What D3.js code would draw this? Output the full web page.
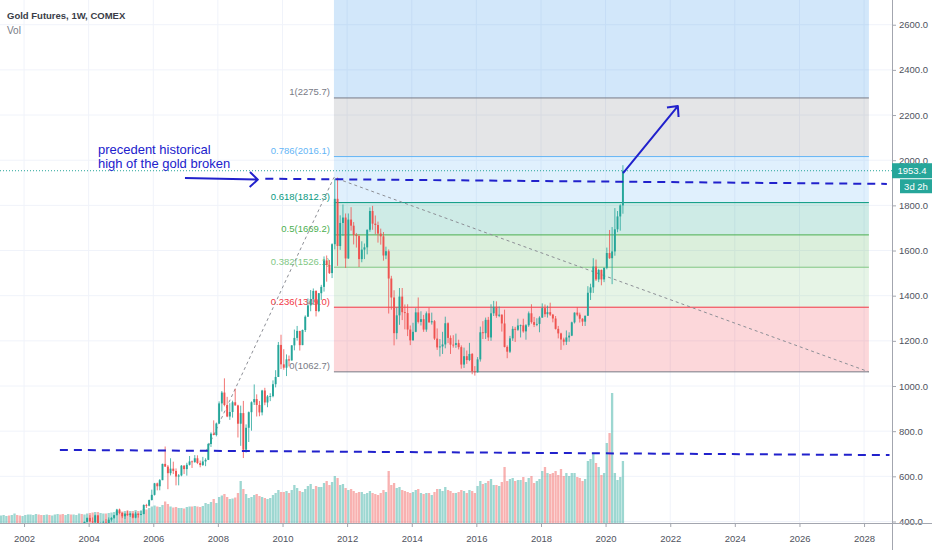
<!DOCTYPE html>
<html lang="en">
<head>
  <meta charset="UTF-8">
  <title>Gold Futures, 1W, COMEX</title>
  <script src="https://d3js.org/d3.v7.min.js"></script>
  <style>
    body { margin: 0; background: #fff; font-family: "Liberation Sans", Arial, sans-serif; }
    svg { display: block; }
    .axis text { font-size: 9.5px; fill: #50535e; font-family: "Liberation Sans", Arial, sans-serif; }
    .axis line { stroke: #a3a6af; }
  </style>
</head>
<body>
  <svg width="932" height="550"></svg>

  <script>
    // monthly bars, Apr 2001 .. Jul 2020 (open = previous close)
    const firstMonth = "2001-04-01";
    const lastMonth = "2020-08-01";

    const closes = [
      264,267,270,265,273,293,279,275,279,
      282,296,302,308,326,318,304,312,324,317,319,347,
      368,348,334,338,364,346,354,375,388,386,398,416,
      400,397,427,388,393,395,391,408,416,428,453,438,
      423,434,428,435,417,435,429,433,473,470,495,518,
      569,556,583,655,643,614,634,624,599,604,647,632,
      651,666,663,680,659,650,666,673,743,789,783,834,
      923,971,916,865,885,928,914,833,880,718,815,884,
      928,942,916,883,980,927,954,955,1008,1040,1182,1096,
      1081,1118,1113,1180,1213,1244,1181,1248,1307,1357,1385,1421,
      1332,1411,1439,1556,1536,1500,1628,1829,1620,1722,1746,1565,
      1737,1710,1669,1664,1562,1604,1614,1692,1775,1719,1713,1675,
      1663,1578,1597,1476,1392,1234,1313,1396,1327,1323,1250,1202,
      1240,1326,1284,1296,1250,1322,1282,1287,1210,1171,1175,1184,
      1278,1213,1183,1182,1190,1172,1095,1132,1115,1142,1065,1061,
      1118,1238,1234,1293,1215,1322,1351,1311,1316,1277,1173,1152,
      1211,1253,1249,1268,1269,1242,1269,1322,1283,1271,1275,1303,
      1345,1318,1327,1316,1299,1253,1233,1206,1196,1215,1223,1282,
      1325,1316,1298,1285,1311,1413,1437,1529,1472,1514,1472,1523,
      1589,1566,1596,1694,1751,1800,1953.4
    ];
    const highs = [
      267,277,275,270,280,294,293,281,281,
      288,299,304,311,328,329,322,314,328,326,325,349,
      383,389,352,342,373,372,367,376,392,392,400,417,
      428,418,430,428,395,403,411,418,419,429,456,457,
      440,438,448,438,436,443,435,448,476,478,497,541,
      571,572,588,656,732,650,680,665,635,610,650,650,
      660,690,670,694,693,670,686,680,748,795,848,838,
      932,978,1034,952,924,935,988,917,913,934,830,887,
      932,1007,963,934,983,992,960,968,1025,1070,1195,1227,
      1163,1140,1135,1181,1250,1266,1244,1250,1313,1388,1425,1432,
      1424,1412,1448,1574,1578,1558,1632,1917,1923,1756,1804,1764,
      1764,1792,1726,1677,1670,1641,1631,1693,1791,1798,1755,1728,
      1697,1682,1617,1605,1488,1424,1348,1434,1434,1361,1362,1268,
      1280,1345,1392,1331,1315,1330,1346,1325,1292,1255,1208,1240,
      1307,1282,1224,1225,1232,1205,1180,1170,1157,1191,1146,1088,
      1128,1263,1287,1303,1306,1362,1377,1375,1352,1317,1338,1180,
      1222,1265,1262,1298,1272,1298,1274,1330,1362,1306,1300,1309,
      1366,1361,1356,1369,1319,1310,1266,1236,1214,1246,1238,1285,
      1326,1349,1325,1300,1312,1442,1453,1566,1560,1519,1516,1525,
      1613,1691,1704,1788,1775,1805,1978
    ];
    const lows = [
      254,263,267,264,265,271,277,272,273,
      278,282,289,300,307,313,300,302,311,310,315,316,
      343,346,320,319,337,341,343,352,371,370,378,398,
      399,393,392,386,371,383,387,389,400,412,427,432,
      415,411,425,420,414,414,417,428,432,460,467,493,
      515,538,538,583,642,543,604,610,560,560,600,610,
      603,648,637,660,654,640,646,645,672,730,782,777,
      834,887,910,862,850,860,913,772,735,681,705,752,
      802,916,865,866,870,915,906,933,950,994,1040,1075,
      1072,1044,1087,1113,1158,1201,1157,1181,1239,1306,1331,1359,
      1308,1327,1381,1418,1462,1496,1478,1605,1532,1603,1665,1523,
      1563,1688,1627,1613,1527,1548,1562,1583,1683,1692,1672,1635,
      1626,1555,1562,1321,1338,1180,1207,1271,1292,1251,1221,1181,
      1202,1238,1277,1268,1240,1240,1280,1272,1204,1160,1131,1142,
      1167,1190,1142,1170,1169,1162,1077,1080,1098,1110,1052,1046,
      1060,1108,1208,1208,1200,1200,1310,1302,1305,1241,1171,1123,
      1146,1200,1195,1244,1215,1236,1205,1262,1276,1261,1265,1238,
      1302,1306,1303,1310,1282,1250,1211,1160,1180,1182,1196,1221,
      1277,1309,1281,1266,1266,1311,1381,1412,1465,1460,1446,1460,
      1517,1563,1451,1577,1681,1688,1763
    ];
    // volume, thousand contracts (weekly average per month)
    const volumes = [
      75,80,70,75,80,95,80,75,70,
      80,85,85,80,90,85,80,80,85,80,75,85,
      90,85,90,80,90,85,85,80,95,90,85,95,
      100,105,110,110,100,95,95,100,105,110,120,115,
      115,120,125,120,120,130,120,125,140,135,150,165,
      175,165,160,180,215,190,165,155,160,150,150,145,
      160,165,165,170,165,160,170,200,190,210,240,200,
      260,275,290,260,240,245,255,300,420,340,290,250,
      260,280,290,270,260,250,240,250,280,300,330,310,
      310,320,300,330,380,350,320,310,340,370,390,340,
      370,360,360,400,420,380,410,470,450,380,390,350,
      330,340,320,300,310,310,290,300,320,300,290,280,
      300,330,310,520,380,400,350,360,330,320,310,300,
      310,330,340,300,290,300,300,280,310,340,340,320,
      360,330,320,300,300,310,330,320,300,330,320,300,
      370,420,390,400,420,440,380,380,370,410,560,420,
      440,450,420,430,430,460,410,450,470,400,420,440,
      520,560,500,490,500,520,480,540,470,500,470,500,
      500,460,450,420,440,620,640,700,600,560,480,500,
      800,900,1300,500,430,460,620
    ];

    const lastPrice = 1953.4;
    const timeLeft = "3d 2h";
    const priceTicks = [400, 600, 800, 1000, 1200, 1400, 1600, 1800, 2000, 2200, 2400, 2600];
    const yearTicks = [2002, 2004, 2006, 2008, 2010, 2012, 2014, 2016, 2018, 2020, 2022, 2024, 2026, 2028];

    // trend based fib extension: A -> B, projected from C
    const fibDates = ["2007-08-20", "2011-08-05", "2028-02-25"];
    const fibPrices = [710.5, 1923.5, 1062.7];
    const fibRatios = [0, 0.236, 0.382, 0.5, 0.618, 0.786, 1, 1.618];
    const fibColors = ["#787b86", "#f23645", "#81c784", "#4caf50", "#089981", "#64b5f6", "#787b86", "#1e88e5"];

    // hand drawn lines (blue)
    const hLineDates = [["2009-06-20", "2028-09-15"], ["2003-02-10", "2028-10-15"]];
    const hLinePrices = [[1918, 1895], [717, 694]];
    const arrowDates = [["2006-12-25", "2009-03-28"], ["2020-07-17", "2022-03-28"]];
    const arrowPrices = [[1921, 1914], [1943, 2240]];
    const noteDate = "2004-04-15";
    const notePrice = 2027;
    const noteLines = ["precedent historical", "high of the gold broken"];

    const svg = d3.select("svg");
    const W = 892, H = 523;
    const parse = d3.timeParse("%Y-%m-%d");
    const blue = "#2121cc";

    const x = d3.scaleTime()
      .domain([new Date(2001, 3, 4), new Date(2028, 10, 12)])
      .range([0, W]);
    const y = d3.scaleLinear().domain([393.3, 2709.5]).range([H, 0]);
    const yv = d3.scaleLinear().domain([0, d3.max(volumes)]).range([H, 393]);

    const months = d3.timeMonth.range(parse(firstMonth), parse(lastMonth));
    const bars = months.map((m, i) => ({
      t: d3.timeDay.offset(m, 14),
      o: i ? closes[i - 1] : closes[0],
      h: highs[i], l: lows[i], c: closes[i], v: volumes[i]
    }));
    const step = x(new Date(2010, 1, 1)) - x(new Date(2010, 0, 1));

    svg.append("defs").append("clipPath").attr("id", "plot")
      .append("rect").attr("width", W).attr("height", H);

    // grid
    const grid = svg.append("g").attr("stroke", "#f0f3fa");
    grid.selectAll(".gy").data(priceTicks).join("line")
      .attr("x1", 0).attr("x2", W).attr("y1", d => y(d)).attr("y2", d => y(d));
    grid.selectAll(".gx").data(yearTicks).join("line")
      .attr("x1", d => x(new Date(d, 0, 1))).attr("x2", d => x(new Date(d, 0, 1)))
      .attr("y1", 0).attr("y2", H);

    const plot = svg.append("g").attr("clip-path", "url(#plot)");

    // fib extension
    const fA = { t: parse(fibDates[0]), p: fibPrices[0] };
    const fB = { t: parse(fibDates[1]), p: fibPrices[1] };
    const fC = { t: parse(fibDates[2]), p: fibPrices[2] };
    const levels = fibRatios.map((r, i) => ({ r, p: fC.p + r * (fB.p - fA.p), color: fibColors[i] }));
    const fx0 = x(fB.t), fx1 = x(fC.t);

    plot.append("g").selectAll("rect").data(levels.slice(1)).join("rect")
      .attr("x", fx0).attr("width", fx1 - fx0)
      .attr("y", d => y(d.p))
      .attr("height", (d, i) => y(levels[i].p) - y(d.p))
      .attr("fill", d => d.color).attr("fill-opacity", 0.2);

    plot.append("g").selectAll("line").data(levels).join("line")
      .attr("x1", fx0).attr("x2", fx1)
      .attr("y1", d => y(d.p)).attr("y2", d => y(d.p))
      .attr("stroke", d => d.color).attr("stroke-width", 1);

    plot.append("g").selectAll("text").data(levels.filter(d => d.r <= 1)).join("text")
      .attr("x", fx0 - 4).attr("y", d => y(d.p) - 2.5)
      .attr("text-anchor", "end").attr("font-size", 9.5).attr("fill", d => d.color)
      .text(d => `${d.r}(${d.p.toFixed(1)})`);

    // volume
    plot.append("g").selectAll("rect").data(bars).join("rect")
      .attr("x", d => x(d.t) - step * 0.42).attr("width", step * 0.84)
      .attr("y", d => yv(d.v)).attr("height", d => H - yv(d.v))
      .attr("fill", d => d.c >= d.o ? "#26a69a" : "#ef5350").attr("fill-opacity", 0.45);

    // fib trend line
    plot.append("path")
      .attr("d", d3.line()([[x(fA.t), y(fA.p)], [x(fB.t), y(fB.p)], [x(fC.t), y(fC.p)]]))
      .attr("fill", "none").attr("stroke", "#8d8f96").attr("stroke-width", 1)
      .attr("stroke-dasharray", "3,3");

    // candles
    const candle = plot.append("g").selectAll("g").data(bars).join("g")
      .attr("stroke", d => d.c >= d.o ? "#26a69a" : "#ef5350")
      .attr("fill", d => d.c >= d.o ? "#26a69a" : "#ef5350");
    candle.append("line")
      .attr("x1", d => x(d.t)).attr("x2", d => x(d.t))
      .attr("y1", d => y(d.h)).attr("y2", d => y(d.l)).attr("stroke-width", 0.8);
    candle.append("rect")
      .attr("x", d => x(d.t) - step * 0.35).attr("width", step * 0.7)
      .attr("y", d => y(Math.max(d.o, d.c)))
      .attr("height", d => Math.max(0.8, Math.abs(y(d.o) - y(d.c))))
      .attr("stroke", "none");

    // last price line
    plot.append("line")
      .attr("x1", 0).attr("x2", W).attr("y1", y(lastPrice)).attr("y2", y(lastPrice))
      .attr("stroke", "#26a69a").attr("stroke-width", 1).attr("stroke-dasharray", "1,2");

    // blue drawings
    const draw = plot.append("g").attr("stroke", blue).attr("stroke-width", 2).attr("fill", "none");
    hLineDates.forEach((dd, i) => {
      draw.append("line")
        .attr("x1", x(parse(dd[0]))).attr("y1", y(hLinePrices[i][0]))
        .attr("x2", x(parse(dd[1]))).attr("y2", y(hLinePrices[i][1]))
        .attr("stroke-dasharray", "8,6");
    });
    arrowDates.forEach((dd, i) => {
      const x1 = x(parse(dd[0])), y1 = y(arrowPrices[i][0]);
      const x2 = x(parse(dd[1])), y2 = y(arrowPrices[i][1]);
      const a = Math.atan2(y2 - y1, x2 - x1), len = 11, spread = 0.75;
      const p1 = [x2 - len * Math.cos(a - spread), y2 - len * Math.sin(a - spread)];
      const p2 = [x2 - len * Math.cos(a + spread), y2 - len * Math.sin(a + spread)];
      draw.append("path").attr("d", `M${x1},${y1}L${x2},${y2}M${p1}L${x2},${y2}L${p2}`)
        .attr("stroke-linejoin", "round");
    });
    svg.append("g").selectAll("text").data(noteLines).join("text")
      .attr("x", x(parse(noteDate))).attr("y", (d, i) => y(notePrice) + i * 14)
      .attr("font-size", 13).attr("fill", blue).text(d => d);

    // axes
    const yAxis = svg.append("g").attr("class", "axis").attr("transform", `translate(${W},0)`)
      .call(d3.axisRight(y).tickValues(priceTicks).tickFormat(d3.format(".1f")).tickSize(4).tickPadding(3));
    yAxis.select(".domain").remove();
    const xAxis = svg.append("g").attr("class", "axis").attr("transform", `translate(0,${H})`)
      .call(d3.axisBottom(x).tickValues(yearTicks.map(d => new Date(d, 0, 1)))
        .tickFormat(d3.timeFormat("%Y")).tickSize(4).tickPadding(8));
    xAxis.select(".domain").remove();
    svg.append("line").attr("x1", W + 0.5).attr("x2", W + 0.5).attr("y1", 0).attr("y2", 550)
      .attr("stroke", "#a3a6af");
    svg.append("line").attr("x1", 0).attr("x2", 932).attr("y1", H + 0.5).attr("y2", H + 0.5)
      .attr("stroke", "#a3a6af");

    // price labels on the axis
    const py = y(lastPrice);
    svg.append("rect").attr("x", W).attr("y", py - 7.5).attr("width", 40).attr("height", 15).attr("fill", "#26a69a");
    svg.append("text").attr("x", W + 20).attr("y", py + 3.5).attr("text-anchor", "middle")
      .attr("font-size", 9.5).attr("fill", "#fff").text(lastPrice.toFixed(1));
    svg.append("rect").attr("x", W + 8).attr("y", py + 8.5).attr("width", 32).attr("height", 14).attr("fill", "#26a69a");
    svg.append("text").attr("x", W + 24).attr("y", py + 19).attr("text-anchor", "middle")
      .attr("font-size", 9.5).attr("fill", "#fff").text(timeLeft);

    // header
    svg.append("text").attr("x", 7).attr("y", 19).attr("font-size", 9.5).attr("font-weight", "bold")
      .attr("fill", "#3a3d47").text("Gold Futures, 1W, COMEX");
    svg.append("text").attr("x", 7).attr("y", 34).attr("font-size", 10)
      .attr("fill", "#787b86").text("Vol");
  </script>
</body>
</html>
